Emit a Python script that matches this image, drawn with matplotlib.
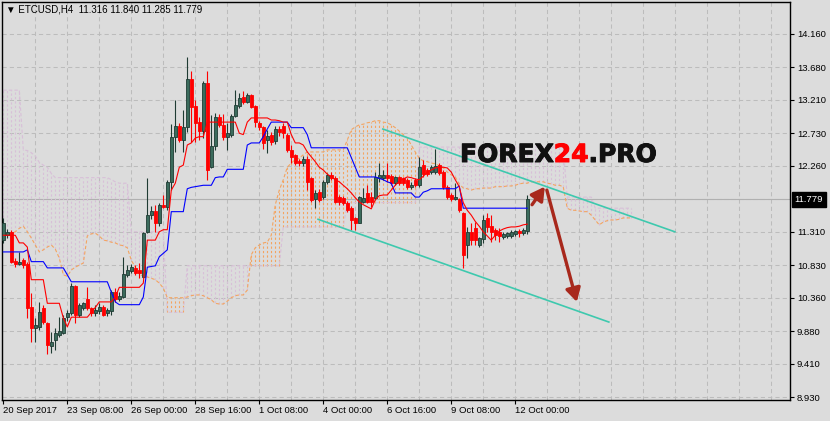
#!/usr/bin/env python3
"""ETCUSD H4 candlestick chart with Ichimoku cloud (MT4 style) -> out.png"""

import matplotlib
matplotlib.use("Agg")
import matplotlib.pyplot as plt
import matplotlib.patheffects as pe
from matplotlib.patches import FancyArrowPatch
from matplotlib.transforms import blended_transform_factory
import numpy as np

# ---- data: H4 bars, bar 0 = 20 Sep 2017 16:00 ----
opens = [
    11.19, 11.26, 11.31, 10.89, 10.85, 10.90, 10.85, 10.23, 9.92, 9.94,
    10.21, 10.00, 9.66, 9.75, 9.82, 9.85, 10.08, 10.14, 10.53, 10.11,
    10.21, 10.34, 10.21, 10.14, 10.17, 10.23, 10.14, 10.17, 10.44, 10.34,
    10.37, 10.69, 10.75, 10.79, 10.76, 10.66, 11.31, 11.55, 11.61, 11.44,
    11.70, 11.67, 12.03, 12.68, 12.84, 12.63, 12.82, 13.51, 13.12, 12.89,
    12.76, 13.45, 12.24, 12.55, 12.97, 12.85, 12.68, 12.71, 12.98, 13.12,
    13.25, 13.18, 13.28, 13.12, 12.88, 12.82, 12.63, 12.70, 12.62, 12.79,
    12.84, 12.70, 12.49, 12.41, 12.33, 12.30, 12.36, 12.08, 11.78, 11.88,
    11.81, 12.03, 12.13, 12.09, 11.81, 11.80, 11.73, 11.65, 11.51, 11.44,
    11.74, 11.87, 11.81, 11.80, 12.09, 12.09, 12.13, 12.11, 12.01, 12.10,
    12.08, 12.06, 11.96, 12.05, 11.98, 12.27, 12.20, 12.17, 12.17, 12.27,
    12.17, 11.96, 11.84, 11.78, 11.78, 11.58, 11.12, 11.31, 11.37, 11.12,
    11.21, 11.51, 11.40, 11.34, 11.31, 11.24, 11.25, 11.25, 11.28, 11.32,
    11.29, 11.316,
]
highs = [
    11.51, 11.35, 11.34, 10.93, 11.02, 10.93, 10.88, 10.43, 10.07, 10.30,
    10.26, 10.01, 9.87, 9.92, 10.08, 10.11, 10.18, 10.57, 10.54, 10.28,
    10.30, 10.51, 10.23, 10.25, 10.28, 10.25, 10.21, 10.47, 10.50, 10.44,
    10.95, 10.83, 10.85, 10.83, 10.86, 11.31, 12.08, 11.68, 11.70, 11.73,
    11.84, 12.06, 12.86, 13.21, 12.87, 13.07, 13.83, 13.63, 13.21, 12.96,
    13.48, 13.63, 12.99, 13.02, 13.00, 13.00, 12.88, 13.00, 13.35, 13.31,
    13.34, 13.31, 13.30, 13.13, 12.91, 12.84, 12.78, 12.75, 12.84, 12.84,
    12.87, 12.74, 12.56, 12.43, 12.36, 12.40, 12.40, 12.10, 11.91, 11.93,
    12.06, 12.16, 12.17, 12.11, 11.84, 11.83, 11.75, 11.68, 11.53, 11.82,
    11.94, 11.98, 11.88, 12.17, 12.30, 12.20, 12.30, 12.14, 12.12, 12.12,
    12.10, 12.08, 12.02, 12.08, 12.39, 12.34, 12.23, 12.27, 12.50, 12.30,
    12.20, 11.98, 11.87, 12.01, 11.80, 11.60, 11.38, 11.44, 11.45, 11.24,
    11.55, 11.58, 11.55, 11.37, 11.37, 11.31, 11.31, 11.34, 11.34, 11.35,
    11.36, 11.840,
]
lows = [
    11.15, 11.22, 10.86, 10.80, 10.83, 10.79, 10.07, 9.72, 9.72, 9.90,
    9.98, 9.55, 9.56, 9.61, 9.79, 9.84, 10.02, 10.11, 10.00, 10.08,
    10.18, 10.18, 10.10, 10.10, 10.12, 10.09, 10.10, 10.11, 10.30, 10.32,
    10.36, 10.66, 10.72, 10.69, 10.64, 10.64, 11.29, 11.50, 11.31, 11.40,
    11.65, 11.62, 11.91, 12.46, 12.60, 12.46, 12.75, 12.60, 12.60, 12.63,
    12.66, 12.06, 12.23, 12.49, 12.82, 12.63, 12.49, 12.68, 12.96, 13.10,
    13.15, 13.17, 13.10, 12.82, 12.78, 12.50, 12.45, 12.56, 12.57, 12.69,
    12.66, 12.46, 12.30, 12.27, 12.26, 12.26, 11.91, 11.74, 11.65, 11.74,
    11.78, 12.00, 12.05, 11.72, 11.70, 11.70, 11.60, 11.34, 11.33, 11.43,
    11.72, 11.72, 11.67, 11.77, 12.03, 12.06, 12.03, 11.98, 11.98, 11.98,
    11.98, 11.93, 11.93, 11.96, 11.96, 12.10, 12.11, 12.14, 12.14, 12.13,
    11.93, 11.78, 11.76, 11.77, 11.60, 10.79, 10.93, 11.12, 11.12, 11.09,
    11.15, 11.31, 11.16, 11.19, 11.16, 11.21, 11.22, 11.22, 11.25, 11.24,
    11.26, 11.285,
]
closes = [
    11.44, 11.31, 10.88, 10.85, 10.88, 10.83, 10.21, 9.92, 9.97, 10.15,
    10.01, 9.68, 9.72, 9.85, 9.88, 10.07, 10.14, 10.53, 10.11, 10.26,
    10.28, 10.21, 10.14, 10.18, 10.23, 10.11, 10.18, 10.44, 10.34, 10.39,
    10.70, 10.76, 10.80, 10.72, 10.72, 11.29, 11.55, 11.61, 11.44, 11.70,
    11.67, 12.03, 12.68, 12.84, 12.63, 12.82, 13.51, 13.11, 12.88, 12.76,
    13.45, 12.20, 12.55, 12.96, 12.85, 12.68, 12.73, 12.98, 13.14, 13.24,
    13.18, 13.28, 13.11, 12.89, 12.82, 12.59, 12.69, 12.60, 12.79, 12.75,
    12.73, 12.49, 12.39, 12.30, 12.30, 12.36, 12.03, 11.77, 11.87, 11.77,
    12.03, 12.13, 12.09, 11.74, 11.74, 11.73, 11.62, 11.48, 11.44, 11.81,
    11.80, 11.74, 11.74, 12.10, 12.13, 12.13, 12.09, 12.01, 12.10, 12.01,
    12.01, 11.96, 11.99, 11.98, 12.24, 12.14, 12.14, 12.24, 12.26, 12.16,
    11.96, 11.81, 11.78, 11.81, 11.62, 10.98, 11.31, 11.19, 11.19, 11.22,
    11.48, 11.38, 11.31, 11.26, 11.25, 11.28, 11.29, 11.31, 11.32, 11.29,
    11.33, 11.779,
]

# Ichimoku lines (one value per bar)
tenkan = [
    11.26, 11.26, 11.26, 11.26, 11.15, 11.15, 11.09, 10.62, 10.62, 10.62,
    10.62, 10.28, 10.28, 10.28, 10.28, 10.07, 9.94, 10.08, 10.08, 10.08,
    10.08, 10.08, 10.15, 10.22, 10.30, 10.30, 10.30, 10.30, 10.37, 10.51,
    10.51, 10.51, 10.51, 10.51, 10.51, 10.57, 11.19, 11.19, 11.19, 11.31,
    11.34, 11.34, 11.91, 12.01, 12.24, 12.27, 12.56, 12.59, 12.66, 12.68,
    12.68, 12.89, 12.89, 12.89, 12.89, 12.89, 12.89, 12.89, 12.89, 12.73,
    12.71, 12.89, 12.95, 12.95, 12.95, 12.95, 12.95, 12.92, 12.92, 12.91,
    12.89, 12.89, 12.71, 12.59, 12.59, 12.56, 12.46, 12.39, 12.32, 12.24,
    12.20, 12.14, 12.10, 12.06, 12.03, 11.98, 11.93, 11.87, 11.80, 11.74,
    11.70, 11.67, 11.64, 11.77, 11.83, 11.84, 11.84, 11.91, 11.98, 12.04,
    12.07, 12.10, 12.09, 12.07, 12.06, 12.11, 12.17, 12.20, 12.23, 12.24,
    12.24, 12.23, 12.17, 12.06, 11.96, 11.73, 11.62, 11.55, 11.46, 11.39,
    11.31, 11.25, 11.19, 11.26, 11.32, 11.35, 11.37, 11.38, 11.38, 11.39,
    11.41, 11.42,
]
kijun = [
    11.02, 11.02, 11.02, 11.02, 11.02, 11.02, 11.05, 10.88, 10.88, 10.88,
    10.88, 10.79, 10.79, 10.79, 10.79, 10.79, 10.69, 10.59, 10.59, 10.59,
    10.59, 10.59, 10.59, 10.59, 10.59, 10.59, 10.59, 10.44, 10.30, 10.26,
    10.26, 10.26, 10.26, 10.26, 10.26, 10.37, 10.80, 10.81, 10.82, 10.95,
    11.00, 11.05, 11.60, 11.60, 11.60, 11.60, 11.93, 11.95, 11.96, 11.97,
    11.98, 11.98, 11.98, 12.09, 12.10, 12.10, 12.21, 12.21, 12.21, 12.21,
    12.21, 12.56, 12.59, 12.59, 12.59, 12.68, 12.79, 12.89, 12.89, 12.89,
    12.89, 12.89, 12.81, 12.81, 12.81, 12.81, 12.71, 12.52, 12.52, 12.52,
    12.52, 12.52, 12.52, 12.52, 12.52, 12.52, 12.52, 12.38, 12.24, 12.10,
    12.10, 12.10, 12.10, 12.10, 12.08, 12.06, 12.03, 12.01, 11.87, 11.87,
    11.87, 11.87, 11.87, 11.81, 11.81, 11.88, 11.90, 11.93, 11.93, 11.93,
    11.93, 11.93, 11.93, 11.93, 11.97, 11.65, 11.65, 11.65, 11.65, 11.65,
    11.65, 11.65, 11.65, 11.65, 11.65, 11.65, 11.65, 11.65, 11.65, 11.65,
    11.65, 11.65,
]
# Senkou spans (already shifted 26 bars ahead, so 158 values)
span_a = [
    11.26, 11.27, 11.29, 11.31, 11.36, 11.39, 11.31, 11.22, 11.12, 11.02,
    11.05, 11.09, 11.12, 11.06, 10.93, 10.69, 10.67, 10.76, 10.80, 10.83,
    10.86, 11.25, 11.28, 11.29, 11.25, 11.19, 11.18, 11.16, 11.15, 11.12,
    11.11, 11.08, 10.90, 10.80, 10.70, 10.67, 10.66, 10.64, 10.62, 10.57,
    10.50, 10.36, 10.36, 10.36, 10.36, 10.36, 10.37, 10.39, 10.40, 10.40,
    10.39, 10.36, 10.33, 10.28, 10.27, 10.27, 10.31, 10.36, 10.39, 10.40,
    10.40, 10.47, 10.98, 11.08, 11.12, 11.15, 11.16, 11.26, 11.70, 11.91,
    12.06, 12.24, 12.30, 12.35, 12.37, 12.42, 12.46, 12.46, 12.46, 12.46,
    12.46, 12.49, 12.49, 12.49, 12.49, 12.49, 12.63, 12.78, 12.82, 12.85,
    12.86, 12.88, 12.89, 12.91, 12.91, 12.89, 12.88, 12.85, 12.81, 12.76,
    12.71, 12.66, 12.56, 12.46, 12.37, 12.33, 12.32, 12.30, 12.29, 12.26,
    12.23, 12.17, 12.13, 12.10, 12.00, 11.94, 11.93, 11.91, 11.93, 11.93,
    11.94, 11.94, 11.94, 11.96, 11.96, 11.96, 11.97, 11.97, 11.98, 12.00,
    12.01, 12.01, 12.03, 12.03, 12.03, 12.03, 12.01, 12.00, 11.98, 11.98,
    11.96, 11.65, 11.62, 11.62, 11.61, 11.60, 11.60, 11.55, 11.48, 11.41,
    11.45, 11.47, 11.48, 11.48, 11.49, 11.51, 11.51, 11.51,
]
span_b = [
    13.35, 13.35, 13.35, 13.35, 13.35, 12.49, 12.48, 12.45, 12.40, 12.31,
    12.27, 12.24, 12.15, 12.09, 12.09, 12.09, 12.09, 12.09, 12.09, 12.09,
    12.09, 12.09, 12.09, 12.09, 12.09, 12.09, 12.09, 12.06, 12.03, 12.01,
    12.01, 12.01, 11.31, 11.31, 11.31, 11.31, 11.31, 11.31, 11.31, 11.31,
    11.31, 10.15, 10.15, 10.15, 10.15, 10.15, 10.82, 10.82, 10.82, 10.82,
    10.82, 10.82, 10.82, 10.82, 10.82, 10.82, 10.82, 10.82, 10.82, 10.82,
    10.82, 10.82, 10.82, 10.82, 10.82, 10.82, 10.82, 10.82, 10.82, 10.82,
    11.38, 11.38, 11.38, 11.38, 11.38, 11.38, 11.38, 11.38, 11.38, 11.38,
    11.38, 11.38, 11.38, 11.38, 11.38, 11.38, 11.73, 11.73, 11.73, 11.73,
    11.73, 11.73, 11.73, 11.73, 11.73, 11.73, 11.73, 11.73, 11.73, 11.73,
    11.73, 11.73, 11.73, 11.73, 12.53, 12.53, 12.53, 12.53, 12.53, 12.53,
    12.53, 12.53, 12.53, 12.53, 12.53, 12.53, 12.53, 12.53, 12.53, 12.53,
    12.53, 12.53, 12.53, 12.53, 12.53, 12.53, 12.53, 12.53, 12.53, 12.53,
    12.53, 12.53, 12.53, 12.53, 12.53, 12.53, 12.53, 12.53, 12.53, 12.53,
    12.53, 11.81, 11.81, 11.81, 11.81, 11.81, 11.81, 11.81, 11.65, 11.65,
    11.65, 11.65, 11.65, 11.65, 11.65, 11.65, 11.65, 11.65,
]

price_ticks = [8.930, 9.410, 9.880, 10.360, 10.830, 11.310, 11.780,
               12.260, 12.730, 13.210, 13.680, 14.160]
last_price = 11.779
time_tick_bars = [0, 16, 32, 48, 64, 80, 96, 112, 128]
time_tick_labels = ["20 Sep 2017", "23 Sep 08:00", "26 Sep 00:00", "28 Sep 16:00",
                    "1 Oct 08:00", "4 Oct 00:00", "6 Oct 16:00", "9 Oct 08:00",
                    "12 Oct 00:00"]
title = "\u25bc ETCUSD,H4  11.316 11.840 11.285 11.779"

# hand-drawn channel and forecast arrows (bar index, price)
channel_upper_x, channel_upper_y = [94.9, 167.9], [12.79, 11.31]
channel_lower_x, channel_lower_y = [78.7, 151.4], [11.49, 10.01]
arrow_up_x, arrow_up_y = [132.2, 135.4], [11.70, 11.96]
arrow_down_x, arrow_down_y = [135.9, 143.4], [11.91, 10.30]

# ---- style ----
BG = "#dcdcdc"
GRID = "#bcbcbc"
BULL = "#3b6b5c"
BULL_EDGE = "#1f3b33"
BEAR = "#ff0000"
SANDY = "#f4a460"
THISTLE = "#d8bfd8"
TEAL = "#3ec9ae"
ARROW = "#a8281c"
FONT = ["Liberation Sans", "DejaVu Sans"]

W, H = 830, 421
fig = plt.figure(figsize=(W / 100, H / 100), dpi=100, facecolor=BG)
ax = fig.add_axes([2 / W, 21 / H, 788 / W, 398 / H], facecolor=BG)
ax.set_xlim(-0.33, 196.7)
ax.set_ylim(8.887, 14.62)

# grid
for gx in range(8, 197, 8):
    ax.axvline(gx, color=GRID, lw=0.75, ls=(0, (4, 3)), zorder=0)
for gy in price_ticks:
    ax.axhline(gy, color=GRID, lw=0.75, ls=(0, (4, 3)), zorder=0)
ax.axhline(last_price, color="#b0b0b0", lw=0.8, zorder=0.5)

# Ichimoku cloud: dotted vertical hatch per bar + dashed span lines
a = np.array(span_a)
b = np.array(span_b)
sx = np.arange(len(a))
cols = np.where(a >= b, SANDY, THISTLE)
ax.vlines(sx, np.minimum(a, b), np.maximum(a, b), colors=cols, lw=0.8,
          linestyles=(0, (2, 2)), zorder=1)
ax.plot(sx, b, color=THISTLE, lw=0.8, ls=(0, (3, 2)), zorder=1.5)
ax.plot(sx, a, color=SANDY, lw=0.8, ls=(0, (3, 2)), zorder=1.5)

# candles
o, h, l, c = map(np.array, (opens, highs, lows, closes))
x = np.arange(len(o))
up = c >= o
ax.vlines(x[up], l[up], h[up], color=BULL_EDGE, lw=0.8, zorder=3)
ax.vlines(x[~up], l[~up], h[~up], color=BEAR, lw=0.8, zorder=3)
body_h = np.maximum(np.abs(c - o), 0.015)
body_b = np.minimum(o, c)
ax.bar(x[up], body_h[up], bottom=body_b[up], width=0.75, color=BULL,
       edgecolor=BULL_EDGE, lw=0.6, zorder=4)
ax.bar(x[~up], body_h[~up], bottom=body_b[~up], width=0.75, color=BEAR,
       edgecolor=BEAR, lw=0.6, zorder=4)

# tenkan / kijun
ax.plot(np.arange(len(kijun)), kijun, color="#0000ff", lw=0.8, zorder=5)
ax.plot(np.arange(len(tenkan)), tenkan, color="#ff0000", lw=0.8, zorder=5)

# channel lines and arrows
ax.plot(channel_upper_x, channel_upper_y, color=TEAL, lw=1.2, zorder=6)
ax.plot(channel_lower_x, channel_lower_y, color=TEAL, lw=1.2, zorder=6)
for ax_x, ax_y in ((arrow_up_x, arrow_up_y), (arrow_down_x, arrow_down_y)):
    ax.add_patch(FancyArrowPatch((ax_x[0], ax_y[0]), (ax_x[1], ax_y[1]),
                                 arrowstyle="-|>,head_length=8,head_width=4.5",
                                 color=ARROW, lw=2.4, zorder=7,
                                 shrinkA=0, shrinkB=0))

# axes frame and ticks
for s in ax.spines.values():
    s.set_color("black")
    s.set_linewidth(1.0)
ax.yaxis.tick_right()
shown = [p for p in price_ticks if abs(p - last_price) > 0.05]
ax.set_yticks(shown)
ax.set_yticklabels([f"{p:.3f}" for p in shown])
ax.tick_params(axis="y", direction="out", length=3, width=0.8, pad=2,
               labelsize=6.8, colors="black")
ax.set_xticks(time_tick_bars)
ax.set_xticklabels(time_tick_labels, ha="left")
ax.tick_params(axis="x", direction="out", length=3, width=0.8, pad=1.5,
               labelsize=6.8, colors="black")
for lab in ax.get_xticklabels() + ax.get_yticklabels():
    lab.set_family(FONT)

# last price box on the price scale
bt = blended_transform_factory(ax.transAxes, ax.transData)
ax.text(1.006, last_price, "11.779", transform=bt, ha="left", va="center",
        fontsize=6.8, family=FONT, color="white", clip_on=False, zorder=10,
        bbox=dict(boxstyle="square,pad=0.3", fc="black", ec="black"))

# symbol title
fig.text(6 / W, 1 - 10 / H, title, ha="left", va="center", fontsize=7,
         family=FONT, color="black")

# watermark logo
renderer = fig.canvas.get_renderer()
lx = 460 / W
ly = 1 - 162 / H
for part, col in (("FOREX", "#111111"), ("24", "#ff0000"), (".PRO", "#111111")):
    t = fig.text(lx, ly, part, ha="left", va="baseline", fontsize=18,
                 fontweight="heavy", family="DejaVu Sans", color=col, zorder=20)
    t.set_path_effects([pe.Stroke(linewidth=0.7, foreground=col), pe.Normal()])
    bb = t.get_window_extent(renderer)
    lx = bb.x1 / W

fig.savefig("out.png", dpi=100, facecolor=BG)
